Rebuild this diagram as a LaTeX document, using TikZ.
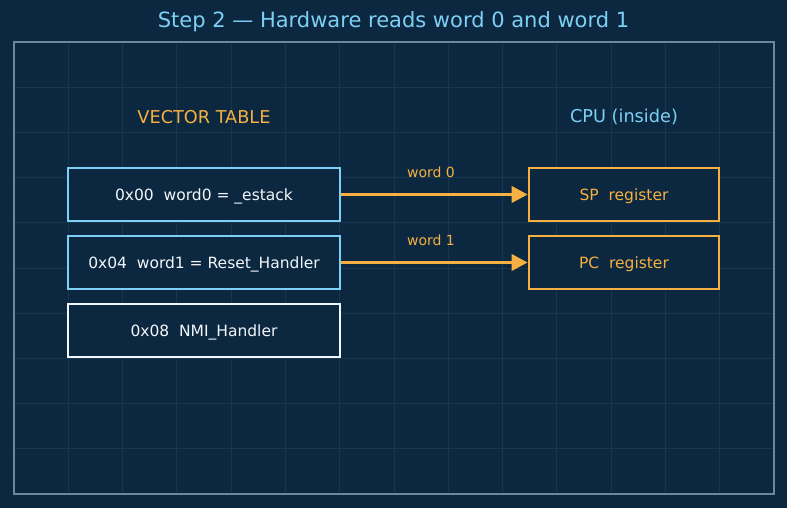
\documentclass[tikz,border=0pt]{standalone}
\usepackage{fontspec}
\setmainfont{DejaVu Sans}
\usetikzlibrary{arrows.meta}
\definecolor{bg}{HTML}{0C2840}
\definecolor{gridc}{HTML}{16374E}
\definecolor{framec}{HTML}{6A889F}
\definecolor{skyb}{HTML}{7DCFF5}
\definecolor{amber}{HTML}{F5B041}
\definecolor{whitec}{HTML}{F2F6FA}
\tikzset{
  box/.style={draw, line width=2.6pt, fill=bg, minimum width=272pt, minimum height=53pt, inner sep=0pt, text height=11.3pt, text depth=0pt, font=\fontsize{15.5}{17}\selectfont},
  vtbox/.style={box, draw=skyb, text=whitec},
  nmibox/.style={box, draw=whitec, text=whitec},
  regbox/.style={box, draw=amber, text=amber, minimum width=190pt},
  header/.style={font=\fontsize{17.7}{20}\selectfont},
  lbl/.style={font=\fontsize{14}{16}\selectfont, text=amber},
  flow/.style={draw=amber, line width=3.5pt, -{Triangle[length=16pt, width=16pt]}}
}
\begin{document}
\begin{tikzpicture}[x=1pt,y=-1pt]
\useasboundingbox[fill=bg] (0,0) rectangle (787,508);
% grid
\foreach \i in {1,...,13} {
  \draw[gridc, line width=1pt] ({14+\i*760/14},42) -- ({14+\i*760/14},494);
}
\foreach \j in {1,...,9} {
  \draw[gridc, line width=1pt] (14,{42+\j*45.2}) -- (774,{42+\j*45.2});
}
\draw[framec, line width=1.5pt] (14,42) rectangle (774,494);
% title
\node[text=skyb, font=\fontsize{21}{24}\selectfont] (title) at (393.5,22) {Step 2 — Hardware reads word 0 and word 1};
% headers
\node[header, text=amber] (vth) at (204,117) {VECTOR TABLE};
\node[header, text=skyb] (cpuh) at (624,117) {CPU (inside)};
% vector table
\node[vtbox] (w0) at (204,194.5) {0x00\ \ word0 = \_estack};
\node[vtbox] (w1) at (204,262.5) {0x04\ \ word1 = Reset\_Handler};
\node[nmibox] (w2) at (204,330.5) {0x08\ \ NMI\_Handler};
% registers
\node[regbox] (sp) at (624,194.5) {SP\ \ register};
\node[regbox] (pc) at (624,262.5) {PC\ \ register};
% arrows
\draw[flow] (w0.east) -- (sp.west);
\draw[flow] (w1.east) -- (pc.west);
\node[lbl] (l0) at (431,172) {word 0};
\node[lbl] (l1) at (431,240) {word 1};
\end{tikzpicture}
\end{document}
